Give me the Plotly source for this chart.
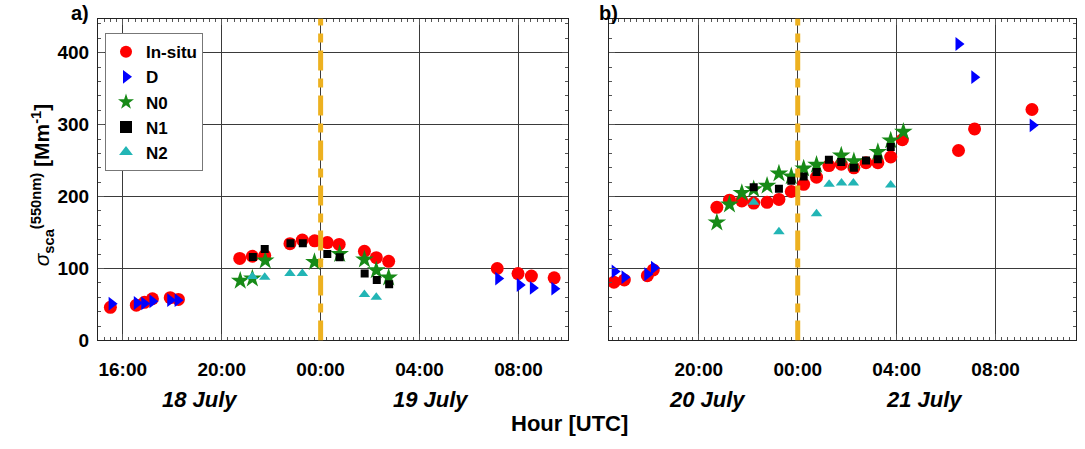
import plotly.graph_objects as go

# ---------------- data (hours since 00:00 of first day in each panel) ----------------
# Panel a: 18-19 July (hours since 18 July 00:00)
a_insitu_x = [15.5, 16.55, 16.88, 17.2, 17.92, 18.25, 20.73, 21.24, 21.74, 22.76, 23.26, 23.76,
              24.27, 24.75, 25.77, 26.25, 26.75, 31.14, 31.98, 32.52, 33.44]
a_insitu_y = [46, 49, 53, 58, 59.5, 57, 114, 117, 118, 134.5, 139.6, 138.5,
              136, 133.5, 124, 115, 110, 100, 93, 89.5, 87]
a_D_x = [15.55, 16.57, 16.87, 17.2, 17.92, 18.22, 31.18, 32.05, 32.58, 33.45]
a_D_y = [51, 52, 51.5, 54.5, 56, 56, 86, 77, 73, 72]
a_N0_x = [20.75, 21.24, 21.76, 23.75, 24.77, 25.77, 26.25, 26.75]
a_N0_y = [83, 86, 111, 109, 120, 112.5, 97.5, 87.5]
a_N1_x = [21.26, 21.74, 22.78, 23.28, 24.27, 24.77, 25.78, 26.27, 26.77]
a_N1_y = [116, 127, 135, 135, 120, 115.5, 93, 84, 78]
a_N2_x = [21.24, 21.74, 22.76, 23.26, 25.77, 26.25]
a_N2_y = [89, 88, 93, 93, 64, 60]

# Panel b: 20-21 July (hours since 20 July 00:00)
b_insitu_x = [16.57, 16.99, 17.92, 18.16, 20.73, 21.24, 21.74, 22.22, 22.76, 23.24, 23.74, 24.24,
              24.76, 25.26, 25.76, 26.27, 26.76, 27.24, 27.76, 28.23, 30.5, 31.15, 33.47]
b_insitu_y = [81, 84, 90, 98, 185, 195, 194, 191, 192, 196, 207, 217,
              227, 243, 245, 240, 247, 247, 255, 279, 264, 294, 321]
b_D_x = [16.6, 17.0, 17.92, 18.19, 30.5, 31.14, 33.5]
b_D_y = [96, 88, 92, 101, 412, 366, 299]
b_N0_x = [20.73, 21.24, 21.74, 22.22, 22.76, 23.24, 23.74, 24.24, 24.76, 25.76, 26.27, 27.24, 27.76, 28.27]
b_N0_y = [164, 189, 205, 210, 215, 232, 228, 239, 244, 257, 249, 262, 278, 290]
b_N1_x = [22.22, 23.24, 23.74, 24.24, 24.76, 25.26, 25.76, 26.27, 26.76, 27.24, 27.76]
b_N1_y = [213, 211, 222, 228, 234, 251, 248, 240, 250, 252, 269]
b_N2_x = [22.22, 23.24, 24.76, 25.27, 25.77, 26.25, 27.76]
b_N2_y = [192, 151, 176, 217, 219, 219, 216]

# ticks
a_tickvals = [16, 20, 24, 28, 32]
a_ticktext = ["16:00", "20:00", "00:00", "04:00", "08:00"]
b_tickvals = [20, 24, 28, 32]
b_ticktext = ["20:00", "00:00", "04:00", "08:00"]
a_gridvals = [18, 22, 26, 30]
b_gridvals = [18, 22, 26, 30, 34]
y_tickvals = [0, 100, 200, 300, 400]
y_ticktext = ["0", "100", "200", "300", "400"]
midnight = 24

series_names = ["In-situ", "D", "N0", "N1", "N2"]

# ---------------- styles ----------------
W, H = 1085, 449
FONT = "Arial, Liberation Sans, sans-serif"
GRID = "#3a3a3a"
styles = {
    "In-situ": dict(symbol="circle", size=13, color="#FF0000"),
    "D": dict(symbol="triangle-right", size=12, color="#0000FF"),
    "N0": dict(symbol="star", size=14, color="#178A17"),
    "N1": dict(symbol="square", size=8, color="#000000"),
    "N2": dict(symbol="triangle-up", size=10, color="#22B5B5"),
}

fig = go.Figure()
panels = [
    ("x", "y", [a_insitu_x, a_D_x, a_N0_x, a_N1_x, a_N2_x], [a_insitu_y, a_D_y, a_N0_y, a_N1_y, a_N2_y], True),
    ("x2", "y2", [b_insitu_x, b_D_x, b_N0_x, b_N1_x, b_N2_x], [b_insitu_y, b_D_y, b_N0_y, b_N1_y, b_N2_y], False),
]
for xa, ya, xs, ys, show in panels:
    for name, xv, yv in zip(series_names, xs, ys):
        st = styles[name]
        fig.add_trace(go.Scatter(
            x=xv, y=yv, mode="markers", name=name, xaxis=xa, yaxis=ya,
            showlegend=show, legendgroup=name,
            marker=dict(symbol=st["symbol"], size=st["size"], color=st["color"],
                        line=dict(width=0)),
        ))

# ---------------- layout ----------------
def px_x(p):
    return p / W

def px_y(p):
    return 1 - p / H

y_bottom, y_top = 349, 19
ydom = [px_y(y_bottom), px_y(y_top)]
YMAX = (y_bottom - y_top) / 0.7375
a_dom = [px_x(98), px_x(568)]
b_dom = [px_x(609), px_x(1076)]
a_range = [15, 34]
b_range = [16.37, 35.25]

common_x = dict(
    tickmode="array", showgrid=True, gridcolor=GRID, gridwidth=1,
    showline=True, linecolor="#222", linewidth=1, mirror="allticks",
    ticks="inside", ticklen=6, tickcolor="#555",
    tickfont=dict(family=FONT, size=19, color="black", weight="bold"),
    ticklabelstandoff=12, zeroline=False,
    minor=dict(tick0=0, dtick=0.25, ticks="inside", ticklen=3, tickcolor="#555", showgrid=False),
)
grid_x = dict(tickmode="array", showgrid=True, gridcolor=GRID, gridwidth=1,
              showline=False, ticks="", showticklabels=False, zeroline=False)
common_y = dict(
    tickmode="array", tickvals=y_tickvals, ticktext=y_ticktext, range=[0, YMAX],
    showgrid=True, gridcolor=GRID, gridwidth=1,
    showline=True, linecolor="#222", linewidth=1, mirror="allticks",
    ticks="inside", ticklen=6, tickcolor="#555",
    tickfont=dict(family=FONT, size=19, color="black", weight="bold"),
    ticklabelstandoff=4, zeroline=False,
    minor=dict(tick0=0, dtick=20, ticks="inside", ticklen=3, tickcolor="#555", showgrid=False),
)

fig.update_layout(
    width=W, height=H, margin=dict(l=0, r=0, t=0, b=0),
    paper_bgcolor="white", plot_bgcolor="white",
    font=dict(family=FONT, color="black"),
    xaxis=dict(domain=a_dom, range=a_range, tickvals=a_tickvals, ticktext=a_ticktext, anchor="y", **common_x),
    yaxis=dict(domain=ydom, anchor="x", showticklabels=True, **common_y),
    xaxis2=dict(domain=b_dom, range=b_range, tickvals=b_tickvals, ticktext=b_ticktext, anchor="y2", **common_x),
    yaxis2=dict(domain=ydom, anchor="x2", showticklabels=False, **common_y),
    xaxis3=dict(overlaying="x", matches="x", anchor="y", tickvals=a_gridvals, **grid_x),
    xaxis4=dict(overlaying="x2", matches="x2", anchor="y2", tickvals=b_gridvals, **grid_x),
    legend=dict(x=px_x(105), y=px_y(34), xanchor="left", yanchor="top",
                bgcolor="white", bordercolor="#777", borderwidth=1,
                font=dict(family=FONT, size=17, color="black", weight="bold"),
                itemsizing="constant", tracegroupgap=0),
    showlegend=True,
)

# vertical midnight lines
for xr, yr in [("x", "y"), ("x2", "y2")]:
    fig.add_shape(type="line", xref=xr, yref=yr, x0=midnight, x1=midnight, y0=0, y1=YMAX,
                  line=dict(color="#EDB120", width=5, dash="20px,8px,9px,8px"), layer="above")

ann_font = dict(family=FONT, color="black")
annotations = [
    dict(text="<b>a)</b>", x=px_x(80), y=px_y(13), size=20),
    dict(text="<b>b)</b>", x=px_x(608), y=px_y(13), size=20),
    dict(text="<b><i>18 July</i></b>", x=px_x(200), y=px_y(410), size=22),
    dict(text="<b><i>19 July</i></b>", x=px_x(431), y=px_y(410), size=22),
    dict(text="<b><i>20 July</i></b>", x=px_x(707), y=px_y(410), size=22),
    dict(text="<b><i>21 July</i></b>", x=px_x(924), y=px_y(410), size=22),
    dict(text="<b>Hour [UTC]</b>", x=px_x(569), y=px_y(434), size=22),
]
for a in annotations:
    fig.add_annotation(text=a["text"], x=a["x"], y=a["y"], xref="paper", yref="paper",
                       xanchor="center", yanchor="middle", showarrow=False,
                       font=dict(size=a["size"], **ann_font))

fig.add_annotation(
    text="<i>σ</i><b><sub>sca</sub><sup>(550nm)</sup> [Mm<sup>-1</sup>]</b>",
    x=px_x(42), y=px_y(190), xref="paper", yref="paper", xanchor="center", yanchor="middle",
    textangle=-90, showarrow=False, font=dict(family=FONT, size=21, color="black"),
)

fig.write_html("out.html")
